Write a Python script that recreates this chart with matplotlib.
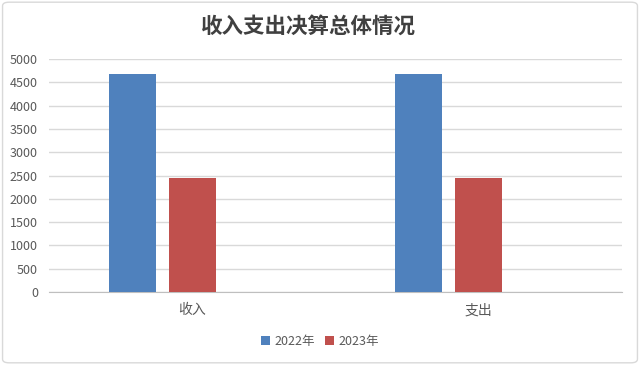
import numpy as np
import matplotlib.pyplot as plt
from matplotlib.patches import FancyBboxPatch

plt.rcParams['font.family'] = ['Noto Sans CJK SC', 'DejaVu Sans']

categories = ["收入", "支出"]
series = ["2022年", "2023年"]
values_2022 = [4680, 4680]
values_2023 = [2450, 2450]
colors = ["#4f81bd", "#c0504d"]

fig = plt.figure(figsize=(6.4, 3.65), dpi=100)
ax = fig.add_axes([0.0766, 0.2, 0.8954, 0.638])

x = np.arange(len(categories))
wt = 0.164
ax.bar(x - 0.21, values_2022, width=wt, color=colors[0], label=series[0], zorder=3)
ax.bar(x, values_2023, width=wt, color=colors[1], label=series[1], zorder=3)

ax.set_xlim(-0.5, 1.5)
ax.set_ylim(0, 5000)
ax.set_yticks(np.arange(0, 5001, 500))
ax.set_xticks(x)
ax.set_xticklabels(categories)
ax.grid(axis='y', color='#d9d9d9', linewidth=1, zorder=0)
for s in ['top', 'left', 'right']:
    ax.spines[s].set_visible(False)
ax.spines['bottom'].set_color('#bfbfbf')
ax.tick_params(axis='both', length=0, labelsize=9, colors='#595959')
ax.tick_params(axis='x', pad=8, labelsize=10)
ax.tick_params(axis='y', pad=8)

fig.text(0.482, 0.929, "收入支出决算总体情况", ha='center', va='center', fontsize=15.5,
         fontweight='bold', color='#404040')

fig.legend(loc='center', bbox_to_anchor=(0.5, 0.065), ncol=2, frameon=False,
           fontsize=9, handlelength=0.7, handleheight=0.7, handletextpad=0.4,
           columnspacing=0.8, labelcolor='#595959')

border = FancyBboxPatch((0.004, 0.006), 0.992, 0.988, boxstyle="round,pad=0,rounding_size=0.01",
                        transform=fig.transFigure, fill=False, edgecolor='#d9d9d9', linewidth=1)
fig.patches.append(border)

plt.savefig("out.png", dpi=100)
